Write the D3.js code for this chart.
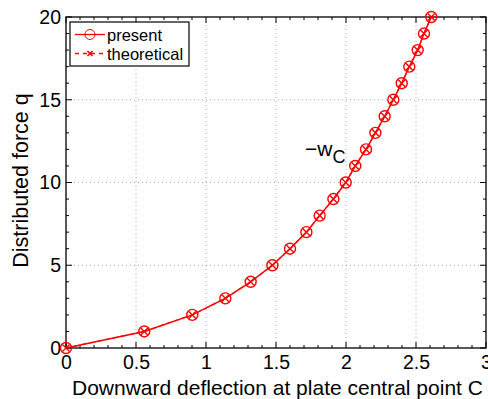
<!DOCTYPE html>
<html>
<head>
<meta charset="utf-8">
<script src="https://cdn.jsdelivr.net/npm/d3@7"></script>
<style>
  body { margin: 0; background: #fff; overflow: hidden; }
  svg { font-family: "Liberation Sans", Arial, sans-serif; }
</style>
</head>
<body>
<div id="chart"></div>
<script>
// deflection values, one per load step
const deflection = [0, 0.559, 0.902, 1.138, 1.319, 1.474, 1.600, 1.717, 1.812, 1.910, 1.998,
  2.066, 2.143, 2.210, 2.276, 2.338, 2.398, 2.452, 2.512, 2.557, 2.609];
const force = [0, 1, 2, 3, 4, 5, 6, 7, 8, 9, 10, 11, 12, 13, 14, 15, 16, 17, 18, 19, 20];
const xTicks = [0, 0.5, 1, 1.5, 2, 2.5, 3];
const yTicks = [0, 5, 10, 15, 20];
const seriesNames = ['present', 'theoretical'];

const W = 488, H = 399;
const margin = { top: 17, right: 2, bottom: 51, left: 66 };
const width = W - margin.left - margin.right;
const height = H - margin.top - margin.bottom;
const red = '#ff0000';
const font = '"Liberation Sans", Arial, sans-serif';

const svg = d3.select('#chart').append('svg')
  .attr('width', W).attr('height', H);
const g = svg.append('g')
  .attr('transform', `translate(${margin.left},${margin.top})`);

const x = d3.scaleLinear().domain([0, 3]).range([0, width]);
const y = d3.scaleLinear().domain([0, 20]).range([height, 0]);

// dotted grid
g.append('g').selectAll('line.gx')
  .data(xTicks.slice(1, -1)).enter().append('line')
  .attr('x1', d => x(d)).attr('x2', d => x(d))
  .attr('y1', 0).attr('y2', height)
  .attr('stroke', '#aaa').attr('stroke-dasharray', '1,3');
g.append('g').selectAll('line.gy')
  .data(yTicks.slice(1, -1)).enter().append('line')
  .attr('x1', 0).attr('x2', width)
  .attr('y1', d => y(d)).attr('y2', d => y(d))
  .attr('stroke', '#aaa').attr('stroke-dasharray', '1,3');

// minor + major ticks on all four sides (inward)
const xMinor = d3.range(0, 3.0001, 0.1);
const yMinor = d3.range(0, 20.0001, 1);
const ticks = g.append('g').attr('stroke', '#000').attr('stroke-width', 1);
xMinor.forEach(v => {
  const len = xTicks.some(t => Math.abs(t - v) < 1e-6) ? 6 : 3;
  ticks.append('line').attr('x1', x(v)).attr('x2', x(v)).attr('y1', height).attr('y2', height - len);
  ticks.append('line').attr('x1', x(v)).attr('x2', x(v)).attr('y1', 0).attr('y2', len);
});
yMinor.forEach(v => {
  const len = Math.round(v) % 5 === 0 ? 6 : 3;
  ticks.append('line').attr('y1', y(v)).attr('y2', y(v)).attr('x1', 0).attr('x2', len);
  ticks.append('line').attr('y1', y(v)).attr('y2', y(v)).attr('x1', width).attr('x2', width - len);
});

g.append('rect').attr('width', width).attr('height', height)
  .attr('fill', 'none').attr('stroke', '#000').attr('stroke-width', 1.3);

// tick labels
g.append('g').call(d3.axisBottom(x).tickValues(xTicks).tickFormat(d3.format('~g')).tickSize(0).tickPadding(7))
  .attr('transform', `translate(0,${height})`)
  .call(a => a.select('.domain').remove())
  .selectAll('text').attr('font-size', 19.5).attr('fill', '#000')
  .style('font-family', font);
g.append('g').call(d3.axisLeft(y).tickValues(yTicks).tickSize(0).tickPadding(5))
  .call(a => a.select('.domain').remove())
  .selectAll('text').attr('font-size', 19.5).attr('fill', '#000')
  .style('font-family', font);

// axis titles
svg.append('text').attr('x', 72).attr('y', 395)
  .attr('font-size', 21)
  .text('Downward deflection at plate central point C');
svg.append('text')
  .attr('transform', 'translate(28,180.5) rotate(-90)')
  .attr('text-anchor', 'middle').attr('font-size', 21.5)
  .text('Distributed force q');

// series
const pts = deflection.map((d, i) => ({ x: d, y: force[i] }));
const line = d3.line().x(d => x(d.x)).y(d => y(d.y));
g.append('path').datum(pts).attr('d', line)
  .attr('fill', 'none').attr('stroke', red).attr('stroke-width', 1.5);
g.append('path').datum(pts).attr('d', line)
  .attr('fill', 'none').attr('stroke', red).attr('stroke-width', 1.2)
  .attr('stroke-dasharray', '5,3');

const r = 5.5;
const mk = g.append('g').selectAll('g').data(pts).enter().append('g')
  .attr('transform', d => `translate(${x(d.x)},${y(d.y)})`)
  .attr('stroke', red).attr('fill', 'none').attr('stroke-width', 1.4);
mk.append('circle').attr('r', r);
mk.append('path').attr('d', 'M-3.5,-3.5L3.5,3.5M-3.5,3.5L3.5,-3.5');

// annotation
const ann = svg.append('text').attr('x', 305).attr('y', 156).attr('font-size', 21);
ann.append('tspan').text('\u2212w');
ann.append('tspan').attr('font-size', 18).attr('dy', 7).text('C');

// legend
const lg = svg.append('g').attr('transform', 'translate(70,22)');
lg.append('rect').attr('width', 119).attr('height', 44)
  .attr('fill', '#fff').attr('stroke', '#000').attr('stroke-width', 1.2);
seriesNames.forEach((name, i) => {
  const cy = 12.5 + i * 19;
  const row = lg.append('g').attr('stroke', red).attr('fill', 'none');
  row.append('line').attr('x1', 5).attr('x2', 35).attr('y1', cy).attr('y2', cy)
    .attr('stroke-width', 1.3).attr('stroke-dasharray', i ? '4,4' : null);
  if (i === 0) row.append('circle').attr('cx', 20).attr('cy', cy).attr('r', 5);
  else row.append('path').attr('d', `M17.5,${cy - 2.5}L22.5,${cy + 2.5}M17.5,${cy + 2.5}L22.5,${cy - 2.5}`).attr('stroke-width', 1.6);
  lg.append('text').attr('x', 37).attr('y', cy + 6).attr('font-size', 16.5).text(name);
});
</script>
</body>
</html>
